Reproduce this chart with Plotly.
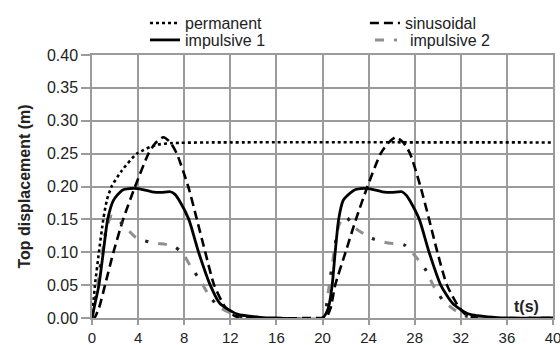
import plotly.graph_objects as go

# ---- data ----
t_perm = [0, 0.26, 0.6, 0.98, 1.3, 1.7, 2.58, 3.9, 5.5, 7.0, 10.0, 40.0]
v_perm = [0, 0.05, 0.10, 0.15, 0.18, 0.20, 0.224, 0.25, 0.263, 0.266, 0.267, 0.267]

t_sin = [0, 0.2, 0.6, 1.13, 1.86, 2.7, 3.74, 4.9, 5.5, 6.2, 6.8, 7.36, 8.35, 9.1, 9.83, 10.6, 11.57, 12.4, 13.5, 20.0,
         20.3, 20.7, 21.1, 22.0, 22.9, 23.9, 25.04, 25.7, 26.35, 27.0, 27.6, 28.5, 29.25, 29.97, 30.8, 31.85, 32.6, 34.0, 40.0]
v_sin = [0, 0.0, 0.015, 0.05, 0.10, 0.15, 0.20, 0.25, 0.266, 0.275, 0.267, 0.25, 0.20, 0.15, 0.10, 0.05, 0.016, 0.003, 0, 0,
         0, 0.015, 0.05, 0.10, 0.15, 0.20, 0.25, 0.266, 0.275, 0.267, 0.25, 0.20, 0.15, 0.10, 0.05, 0.016, 0.003, 0, 0]

t_imp1 = [0, 0.3, 0.6, 0.98, 1.36, 1.86, 2.6, 3.6, 4.5, 5.2, 6.0, 6.8, 7.2, 7.6, 8.4, 9.25, 10.26, 11.1, 12.6, 14.6, 16.0, 20.0,
          20.5, 20.84, 21.1, 21.4, 21.8, 22.7, 23.6, 24.5, 25.2, 26.0, 26.9, 27.3, 27.6, 28.4, 29.25, 30.26, 31.3, 32.7, 34.9, 36.0, 40.0]
v_imp1 = [0, 0.025, 0.05, 0.10, 0.15, 0.179, 0.194, 0.197, 0.195, 0.192, 0.191, 0.192, 0.188, 0.178, 0.15, 0.10, 0.05, 0.022, 0.006, 0.001, 0, 0,
          0.015, 0.05, 0.10, 0.15, 0.179, 0.194, 0.197, 0.195, 0.192, 0.191, 0.192, 0.186, 0.178, 0.15, 0.10, 0.05, 0.022, 0.006, 0.001, 0, 0]

t_imp2 = [0, 0.4, 0.9, 1.3, 1.7, 2.1, 2.87, 3.7, 4.5, 5.3, 6.4, 7.0, 7.85, 8.6, 9.4, 10.2, 11.1, 12.5, 14.0, 20.0,
          20.5, 21.0, 21.4, 21.8, 22.1, 22.9, 24.3, 25.7, 27.1, 28.1, 29.0, 29.6, 30.4, 31.4, 32.5, 34.0, 40.0]
v_imp2 = [0, 0.04, 0.10, 0.14, 0.155, 0.152, 0.139, 0.124, 0.118, 0.114, 0.112, 0.110, 0.099, 0.077, 0.057, 0.033, 0.016, 0.004, 0, 0,
          0.04, 0.10, 0.14, 0.153, 0.153, 0.136, 0.121, 0.114, 0.111, 0.093, 0.072, 0.05, 0.028, 0.013, 0.003, 0, 0]

x_ticks = [0, 4, 8, 12, 16, 20, 24, 28, 32, 36, 40]
y_ticks = [0.00, 0.05, 0.10, 0.15, 0.20, 0.25, 0.30, 0.35, 0.40]

GRID = "#9b9b9b"
FONT = "Liberation Sans, Arial, sans-serif"

fig = go.Figure()
fig.add_trace(go.Scatter(x=t_perm, y=v_perm, name="permanent", mode="lines", legend="legend",
                         line=dict(color="black", width=2.6, dash="3px,3px", shape="spline", smoothing=0.6)))
fig.add_trace(go.Scatter(x=t_sin, y=v_sin, name="sinusoidal", mode="lines", legend="legend2",
                         line=dict(color="black", width=2.6, dash="9px,5px", shape="spline", smoothing=0.6)))
fig.add_trace(go.Scatter(x=t_imp2, y=v_imp2, name="impulsive 2", mode="lines", legend="legend4",
                         line=dict(color="#8f8f8f", width=3, dash="9px,10px,3px,10px", shape="spline", smoothing=0.6)))
fig.add_trace(go.Scatter(x=t_imp2, y=v_imp2, name="impulsive 2", mode="lines", legend="legend4", showlegend=False,
                         line=dict(color="#222", width=3, dash="0px,19px,3px,10px", shape="spline", smoothing=0.6)))
fig.add_trace(go.Scatter(x=t_imp1, y=v_imp1, name="impulsive 1", mode="lines", legend="legend3",
                         line=dict(color="black", width=2.8, shape="spline", smoothing=0.6)))

fig.add_annotation(x=37.7, y=0.017, text="<b>t(s)</b>", showarrow=False,
                   font=dict(size=16, color="#222", family=FONT))

def leg(x, y):
    return dict(x=x, y=y, xanchor="left", yanchor="middle", bgcolor="rgba(0,0,0,0)",
                font=dict(size=16), borderwidth=0)

fig.update_layout(
    width=560, height=345,
    showlegend=True,
    margin=dict(l=92, r=7, t=54, b=27),
    paper_bgcolor="white", plot_bgcolor="white",
    font=dict(family=FONT, size=16, color="#222"),
    xaxis=dict(range=[0, 40], tickvals=x_ticks, ticktext=[str(v) for v in x_ticks],
               automargin=False, ticklabeloverflow="allow",
               showgrid=True, gridcolor=GRID, gridwidth=1.5,
               showline=True, linecolor=GRID, linewidth=1.5, mirror=True,
               ticks="outside", ticklen=5, tickcolor=GRID, tickwidth=1.5,
               zeroline=False, tickfont=dict(size=15)),
    yaxis=dict(range=[0, 0.40], tickvals=y_ticks, ticktext=[f"{v:.2f}" for v in y_ticks],
               automargin=False,
               showgrid=True, gridcolor=GRID, gridwidth=1.5,
               showline=True, linecolor=GRID, linewidth=1.5, mirror=True,
               ticks="outside", ticklen=9, tickcolor=GRID, tickwidth=1.5,
               zeroline=False, tickfont=dict(size=16),
               title=dict(text="<b>Top displacement (m)</b>", font=dict(size=16), standoff=12)),
    legend=leg(0.115, 1.117),
    legend2=leg(0.592, 1.117),
    legend3=leg(0.115, 1.053),
    legend4=leg(0.603, 1.053),
)

fig.write_html("out.html")
